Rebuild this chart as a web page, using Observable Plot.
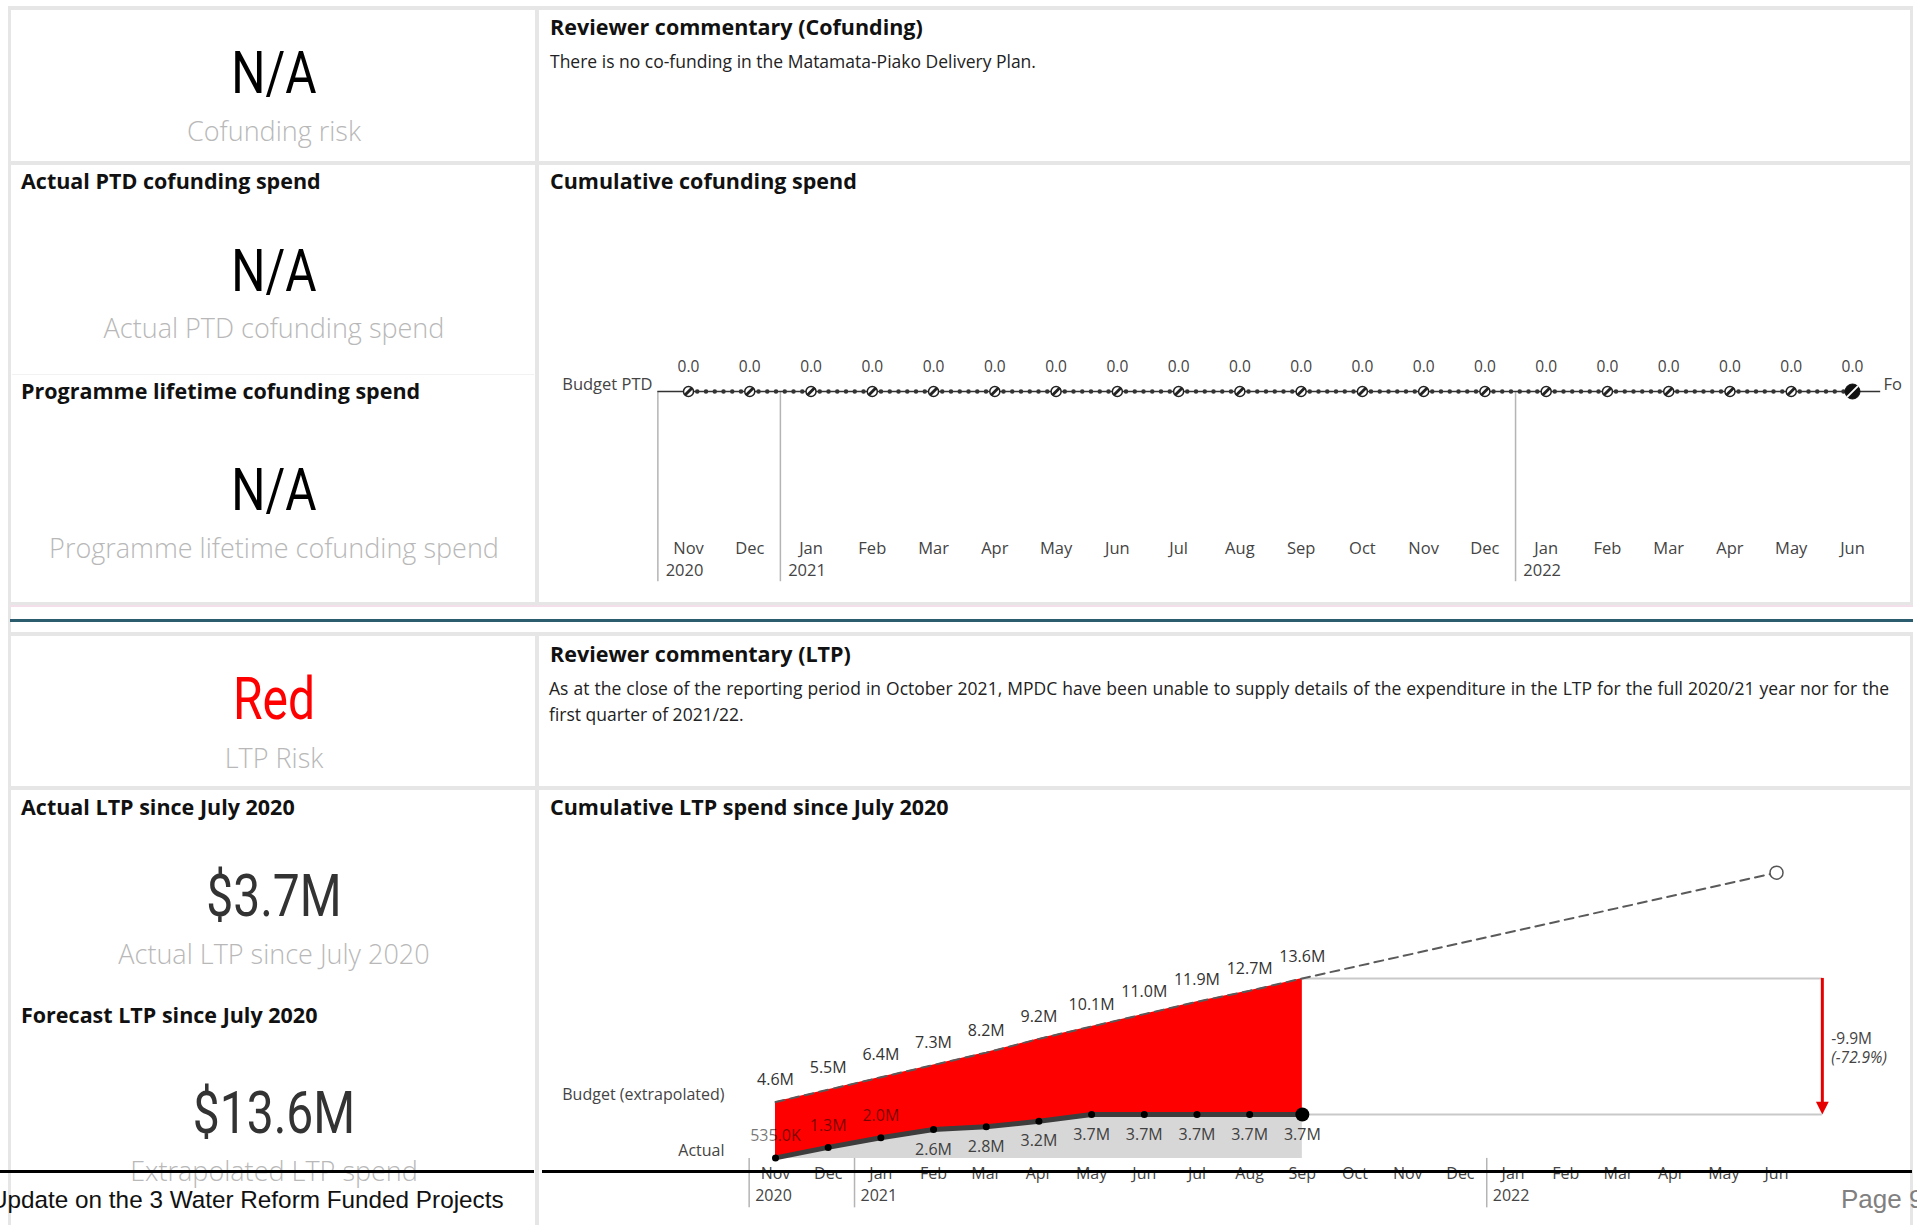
<!DOCTYPE html>
<html>
<head>
<meta charset="utf-8">
<script src="https://cdn.jsdelivr.net/npm/d3@7"></script>
<script src="https://cdn.jsdelivr.net/npm/@observablehq/plot@0.6"></script>
<style>
  html, body { margin: 0; padding: 0; background: #fff; }
  #page { position: relative; width: 1917px; height: 1225px; overflow: hidden; font-family: "Open Sans", sans-serif; color: #222; }
  .t { position: absolute; white-space: nowrap; line-height: 1.2; }
  .c { transform: translate(-50%, -50%); }
  .l { transform: translate(0, -50%); }
  .head { font-weight: 700; font-size: 21.5px; color: #111; }
  .body { font-size: 17.5px; color: #222; }
  .kpi { font-family: Roboto, sans-serif; font-size: 60px; transform: translate(-50%, -50%) scaleX(0.8); }
  .cat { font-weight: 300; font-size: 27px; color: #b8b8b8; }
  .bar { position: absolute; background: #e6e6e6; }
  .chart { position: absolute; }
  .foot { position: absolute; background: #000; height: 3px; top: 1170px; z-index: 5; }
</style>
</head>
<body>
<div id="page">
  <!-- panel frames -->
  <div class="bar" style="left:8px;top:6px;width:1905px;height:4px"></div>
  <div class="bar" style="left:8px;top:6px;width:3px;height:1219px"></div>
  <div class="bar" style="left:535px;top:6px;width:4px;height:600px"></div>
  <div class="bar" style="left:535px;top:632px;width:4px;height:593px"></div>
  <div class="bar" style="left:1910px;top:6px;width:3px;height:600px"></div>
  <div class="bar" style="left:1910px;top:632px;width:3px;height:593px"></div>
  <div class="bar" style="left:8px;top:161px;width:1905px;height:4px"></div>
  <div class="bar" style="left:8px;top:602px;width:1905px;height:3px"></div>
  <div class="bar" style="left:10px;top:605px;width:1903px;height:2px;background:#f3dfe9"></div>
  <div class="bar" style="left:10px;top:619px;width:1903px;height:3px;background:#2c5d6e"></div>
  <div class="bar" style="left:8px;top:632px;width:1905px;height:4px"></div>
  <div class="bar" style="left:8px;top:786px;width:1905px;height:4px"></div>
  <div class="bar" style="left:12px;top:374px;width:522px;height:1px;background:#f2f2f2"></div>

  <!-- cofunding cards -->
  <div class="t kpi" id="kpiCofRisk" style="left:274px;top:73px;color:#000"></div>
  <div class="t cat c" style="left:274px;top:131px">Cofunding risk</div>
  <div class="t head l" style="left:21px;top:181px">Actual PTD cofunding spend</div>
  <div class="t kpi" id="kpiCofActual" style="left:274px;top:271px;color:#000"></div>
  <div class="t cat c" style="left:274px;top:328px">Actual PTD cofunding spend</div>
  <div class="t head l" style="left:21px;top:391px">Programme lifetime cofunding spend</div>
  <div class="t kpi" id="kpiCofLifetime" style="left:274px;top:490px;color:#000"></div>
  <div class="t cat c" style="left:274px;top:548px">Programme lifetime cofunding spend</div>

  <div class="t head l" style="left:550px;top:27px">Reviewer commentary (Cofunding)</div>
  <div class="t body l" style="left:550px;top:61px">There is no co-funding in the Matamata-Piako Delivery Plan.</div>
  <div class="t head l" style="left:550px;top:181px">Cumulative cofunding spend</div>

  <!-- LTP cards -->
  <div class="t kpi" id="kpiLtpRisk" style="left:274px;top:699px;color:#ff0000"></div>
  <div class="t cat c" style="left:274px;top:758px">LTP Risk</div>
  <div class="t head l" style="left:21px;top:807px">Actual LTP since July 2020</div>
  <div class="t kpi" id="kpiLtpActual" style="left:274px;top:896px;color:#333"></div>
  <div class="t cat c" style="left:274px;top:954px">Actual LTP since July 2020</div>
  <div class="t head l" style="left:21px;top:1015px">Forecast LTP since July 2020</div>
  <div class="t kpi" id="kpiLtpForecast" style="left:274px;top:1113px;color:#333"></div>
  <div class="t cat c" style="left:274px;top:1171px">Extrapolated LTP spend</div>

  <div class="t head l" style="left:550px;top:654px">Reviewer commentary (LTP)</div>
  <div class="t body l" style="left:549px;top:688px;width:1340px;text-align:justify;text-align-last:justify;">As at the close of the reporting period in October 2021, MPDC have been unable to supply details of the expenditure in the LTP for the full 2020/21 year nor for the</div>
  <div class="t body l" style="left:549px;top:714px">first quarter of 2021/22.</div>
  <div class="t head l" style="left:550px;top:807px">Cumulative LTP spend since July 2020</div>

  <div class="chart" id="cofChart" style="left:540px;top:340px"></div>
  <div class="chart" id="ltpChart" style="left:540px;top:800px"></div>

  <!-- page footer -->
  <div class="foot" style="left:0;width:534px"></div>
  <div class="foot" style="left:542px;width:1370px"></div>
  <div class="t l" style="left:-10px;top:1200px;font-family:'Liberation Sans',Arial,sans-serif;font-size:24.3px;color:#111">Update on the 3 Water Reform Funded Projects</div>
  <div class="t l" style="left:1841px;top:1200px;font-family:'Liberation Sans',Arial,sans-serif;font-size:26px;color:#808080">Page 9</div>
</div>

<script>
// ---- Data -------------------------------------------------------------
// Reporting months, Nov 2020 – Jun 2022
const periods = ["2020-11","2020-12","2021-01","2021-02","2021-03","2021-04","2021-05","2021-06","2021-07","2021-08",
                 "2021-09","2021-10","2021-11","2021-12","2022-01","2022-02","2022-03","2022-04","2022-05","2022-06"];

// Cofunding budget, period to date ($)
const budgetPTD = [0,0,0,0,0,0,0,0,0,0,0,0,0,0,0,0,0,0,0,0];

// Cumulative LTP spend since July 2020 ($M), Nov 2020 – Sep 2021
const actualLTP = [0.535, 1.3, 2.0, 2.6, 2.8, 3.2, 3.7, 3.7, 3.7, 3.7, 3.7];
const budgetLTP = [4.6, 5.5, 6.4, 7.3, 8.2, 9.2, 10.1, 11.0, 11.9, 12.7, 13.6];
// Extrapolated budget at the end of the period ($M)
const forecastPeriod = "2022-06";
const forecastLTP = 21.3;
// Variance of actual against budget at the latest month
const gapPercent = -72.9;

// Card values
const cofundingRisk = "N/A";
const cofundingActual = "N/A";
const cofundingLifetime = "N/A";
const ltpRisk = "Red";

// ---- Helpers ----------------------------------------------------------
const parse = d3.utcParse("%Y-%m");
const monthLabel = p => d3.utcFormat("%b")(parse(p));
const yearLabel = (p, i) => (i === 0 || p.endsWith("-01")) ? p.slice(0, 4) : "";
const yearBreaks = periods.map((p, i) => (i === 0 || p.endsWith("-01")) ? i - 0.5 : null).filter(d => d !== null);
const fmtM = v => Math.abs(v) < 1 ? (v * 1000).toFixed(1) + "K" : v.toFixed(1) + "M";
const lastIdx = periods.length - 1;

const slash = {
  draw(ctx, size) {
    const r = Math.sqrt(size / Math.PI) * 0.75;
    ctx.moveTo(-r, r); ctx.lineTo(r, -r);
  }
};
const downHead = {
  draw(ctx, size) {
    const r = Math.sqrt(size / Math.PI);
    ctx.moveTo(0, 0); ctx.lineTo(-r * 0.8, -r * 1.6); ctx.lineTo(r * 0.8, -r * 1.6); ctx.closePath();
  }
};

// ---- Cards --------------------------------------------------------------
document.getElementById("kpiCofRisk").textContent = cofundingRisk;
document.getElementById("kpiCofActual").textContent = cofundingActual;
document.getElementById("kpiCofLifetime").textContent = cofundingLifetime;
document.getElementById("kpiLtpRisk").textContent = ltpRisk;
document.getElementById("kpiLtpActual").textContent = "$" + actualLTP[actualLTP.length - 1].toFixed(1) + "M";
document.getElementById("kpiLtpForecast").textContent = "$" + budgetLTP[budgetLTP.length - 1].toFixed(1) + "M";

// ---- Cumulative cofunding spend ---------------------------------------
const chartStyle = {background: "transparent", fontFamily: "'Open Sans', sans-serif", fontSize: "16.5px", color: "#333"};
const cofIdx = d3.range(budgetPTD.length);

const cof = Plot.plot({
  width: 1362, height: 250,
  style: chartStyle,
  x: {domain: [0, lastIdx], range: [148, 1312], axis: null},
  y: {domain: [0, 1], range: [51, 0], axis: null},
  marks: [
    Plot.ruleX(yearBreaks, {x: d => d, y1: 0, y2: -3.73, stroke: "#b4b4b4", strokeWidth: 1.5}),
    Plot.ruleY([0], {x1: -0.5, x2: lastIdx + 0.46, stroke: "#333", strokeWidth: 1.5}),
    Plot.lineY(budgetPTD, {x: (d, i) => i, y: d => d, stroke: "#333", strokeWidth: 4.5, strokeDasharray: "0 8.75", strokeLinecap: "round"}),
    Plot.dot(cofIdx.slice(0, -1), {x: i => i, y: i => budgetPTD[i], r: 5, fill: "#fff", stroke: "#222", strokeWidth: 1.5}),
    Plot.dot(cofIdx.slice(0, -1), {x: i => i, y: i => budgetPTD[i], r: 5, symbol: slash, stroke: "#222", strokeWidth: 3}),
    Plot.dot([lastIdx], {x: i => i, y: i => budgetPTD[i], r: 7.5, fill: "#111", stroke: "#111", strokeWidth: 1}),
    Plot.dot([lastIdx], {x: i => i, y: i => budgetPTD[i], r: 7.5, symbol: slash, stroke: "#fff", strokeWidth: 2}),
    Plot.text(budgetPTD, {x: (d, i) => i, y: d => d, text: d => d.toFixed(1), dy: -24, fill: "#444", fontSize: 15.5}),
    Plot.text(["Budget PTD"], {x: () => 0, y: () => 0, dx: -36, dy: -7, textAnchor: "end", fill: "#444"}),
    Plot.text(["Forecast"], {x: () => lastIdx, y: () => 0, dx: 31, dy: -7, textAnchor: "start", fill: "#444"}),
    Plot.text(periods, {x: (d, i) => i, y: () => 0, text: monthLabel, dy: 157, fill: "#444"}),
    Plot.text(periods, {x: (d, i) => i, y: () => 0, text: yearLabel, dx: -4, dy: 179, fill: "#444"})
  ]
});
document.getElementById("cofChart").append(cof);

// ---- Cumulative LTP spend since July 2020 -----------------------------
const yMin = 0.5;
const ltpIdx = d3.range(actualLTP.length);
const last = actualLTP.length - 1;
const fIdx = periods.indexOf(forecastPeriod);
const budgetPath = [...budgetLTP.map((v, i) => ({i, v})), {i: fIdx, v: forecastLTP}];
const gapX = lastIdx + 0.87;
const gap = actualLTP[last] - budgetLTP[last];
const aboveActual = i => i < 3; // early labels sit inside the red band

const ltp = Plot.plot({
  width: 1370, height: 425,
  style: {...chartStyle, fontSize: "16px"},
  x: {domain: [0, lastIdx], range: [235, 1236], axis: null},
  y: {domain: [yMin, 25], range: [357.9, 21.3], axis: null},
  marks: [
    Plot.areaY(ltpIdx, {x: i => i, y1: yMin, y2: i => actualLTP[i], fill: "#d7d7d7"}),
    Plot.areaY(ltpIdx, {x: i => i, y1: i => actualLTP[i], y2: i => budgetLTP[i], fill: "#ff0000"}),
    Plot.ruleY([budgetLTP[last], actualLTP[last]], {x1: last, x2: gapX, stroke: "#c9c9c9", strokeWidth: 2}),
    Plot.lineY(budgetPath, {x: "i", y: "v", stroke: "#5a5a5a", strokeWidth: 2, strokeDasharray: "9 6"}),
    Plot.dot([forecastLTP], {x: () => fIdx, y: d => d, r: 6.5, fill: "#fff", stroke: "#555", strokeWidth: 1.5}),
    Plot.lineY(actualLTP, {x: (d, i) => i, y: d => d, stroke: "#3d3d3d", strokeWidth: 5}),
    Plot.dot(actualLTP.slice(0, -1), {x: (d, i) => i, y: d => d, r: 3.5, fill: "#000"}),
    Plot.dot([actualLTP[last]], {x: () => last, y: d => d, r: 7, fill: "#000"}),
    Plot.ruleX([gapX], {y1: budgetLTP[last], y2: actualLTP[last], stroke: "#e60000", strokeWidth: 3, insetBottom: 8}),
    Plot.dot([actualLTP[last]], {x: () => gapX, y: d => d, r: 8, symbol: downHead, fill: "#e60000", stroke: "none"}),
    Plot.text([fmtM(gap)], {x: () => gapX, y: () => (budgetLTP[last] + actualLTP[last]) / 2, dx: 9, dy: -7, textAnchor: "start", fill: "#444", fontSize: 15.5}),
    Plot.text(["(" + gapPercent.toFixed(1) + "%)"], {x: () => gapX, y: () => (budgetLTP[last] + actualLTP[last]) / 2, dx: 9, dy: 12, textAnchor: "start", fill: "#444", fontSize: 15.5, fontStyle: "italic"}),
    Plot.text(budgetLTP, {x: (d, i) => i, y: d => d, text: fmtM, dy: -22, fill: "#333"}),
    Plot.text(actualLTP, {x: (d, i) => i, y: d => d, text: fmtM, fill: "#000", fillOpacity: 0.55,
      filter: (d, i) => aboveActual(i), dy: -22}),
    Plot.text(actualLTP, {x: (d, i) => i, y: d => d, text: fmtM, fill: "#404040",
      filter: (d, i) => !aboveActual(i), dy: 20}),
    Plot.text(["Budget (extrapolated)"], {x: () => 0, y: () => budgetLTP[0], dx: -51, dy: -7, textAnchor: "end", fill: "#444"}),
    Plot.text(["Actual"], {x: () => 0, y: () => actualLTP[0], dx: -51, dy: -7, textAnchor: "end", fill: "#444"}),
    Plot.ruleX(yearBreaks, {x: d => d, y1: yMin, y2: -3.1, stroke: "#b4b4b4", strokeWidth: 1.5}),
    Plot.text(periods, {x: (d, i) => i, y: () => yMin, text: monthLabel, dy: 15, fill: "#444"}),
    Plot.text(periods, {x: (d, i) => i, y: () => yMin, text: yearLabel, dx: -2, dy: 37, fill: "#444"})
  ]
});
document.getElementById("ltpChart").append(ltp);
</script>
</body>
</html>
